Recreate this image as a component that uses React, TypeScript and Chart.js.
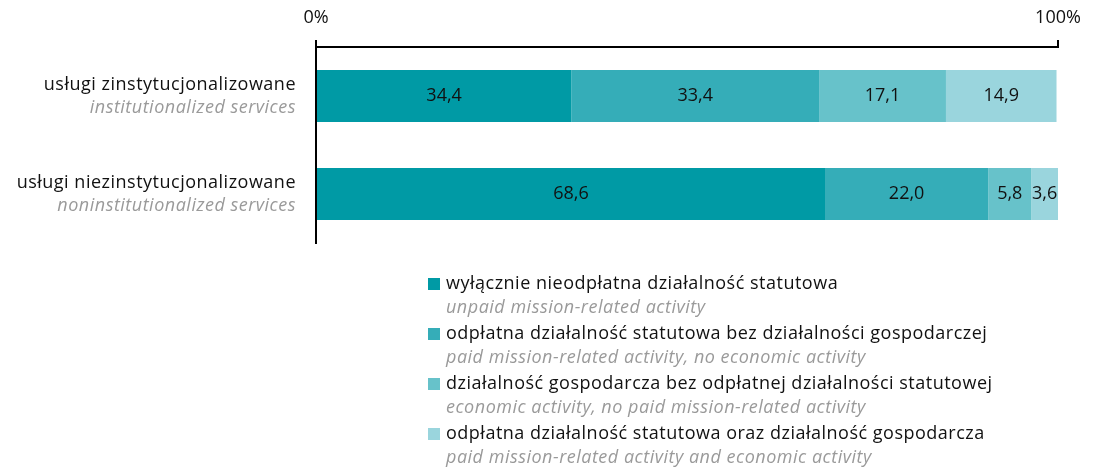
import React, { useEffect, useRef } from "react";
import { Chart, registerables } from "chart.js";

Chart.register(...registerables);

const categoriesPl = ["usługi zinstytucjonalizowane", "usługi niezinstytucjonalizowane"];
const categoriesEn = ["institutionalized services", "noninstitutionalized services"];

const seriesPl = [
  "wyłącznie nieodpłatna działalność statutowa",
  "odpłatna działalność statutowa bez działalności gospodarczej",
  "działalność gospodarcza bez odpłatnej działalności statutowej",
  "odpłatna działalność statutowa oraz działalność gospodarcza",
];
const seriesEn = [
  "unpaid mission-related activity",
  "paid mission-related activity, no economic activity",
  "economic activity, no paid mission-related activity",
  "paid mission-related activity and economic activity",
];

const unpaidMission = [34.4, 68.6];
const paidNoEconomic = [33.4, 22.0];
const economicNoPaid = [17.1, 5.8];
const paidAndEconomic = [14.9, 3.6];

const seriesValues = [unpaidMission, paidNoEconomic, economicNoPaid, paidAndEconomic];
const seriesColors = ["#009AA5", "#35ADB8", "#67C2CA", "#9AD5DD"];

const xTickValues = [0, 100];

const FONT = "'Open Sans', 'Noto Sans', sans-serif";

const labelsPlugin = {
  id: "customLabels",
  afterDatasetsDraw(chart: any) {
    const ctx = chart.ctx;
    ctx.save();
    // data labels
    ctx.font = `18px ${FONT}`;
    ctx.fillStyle = "#111";
    ctx.textAlign = "center";
    ctx.textBaseline = "middle";
    chart.data.datasets.forEach((ds: any, di: number) => {
      const meta = chart.getDatasetMeta(di);
      meta.data.forEach((bar: any, i: number) => {
        const v = ds.data[i];
        const cx = (bar.x + bar.base) / 2;
        ctx.fillText(v.toFixed(1).replace(".", ","), cx, bar.y);
      });
    });
    (ctx as any).letterSpacing = "0.5px";
    // category labels
    const yScale = chart.scales.y;
    ctx.textAlign = "right";
    categoriesPl.forEach((c, i) => {
      const y = yScale.getPixelForValue(i);
      ctx.font = `18px ${FONT}`;
      ctx.fillStyle = "#111";
      ctx.fillText(c, 296, y - 11);
      ctx.font = `italic 18px ${FONT}`;
      ctx.fillStyle = "#9a9a9a";
      ctx.fillText(categoriesEn[i], 296, y + 12);
    });
    // legend
    ctx.textAlign = "left";
    seriesPl.forEach((s, i) => {
      const y = 284 + i * 50;
      ctx.fillStyle = seriesColors[i];
      ctx.fillRect(428, y - 6, 12, 12);
      ctx.font = `18px ${FONT}`;
      ctx.fillStyle = "#111";
      ctx.fillText(s, 446, y);
      ctx.font = `italic 18px ${FONT}`;
      ctx.fillStyle = "#9a9a9a";
      ctx.fillText(seriesEn[i], 446, y + 24);
    });
    (ctx as any).letterSpacing = "0px";
    ctx.restore();
  },
};

export default function App() {
  const ref = useRef<HTMLCanvasElement>(null);
  useEffect(() => {
    if (!ref.current) return;
    const chart = new Chart(ref.current, {
      type: "bar",
      data: {
        labels: categoriesPl,
        datasets: seriesValues.map((vals, i) => ({
          label: seriesPl[i],
          data: vals,
          backgroundColor: seriesColors[i],
          borderWidth: 0,
          categoryPercentage: 1,
          barPercentage: 0.53,
        })),
      },
      options: {
        indexAxis: "y",
        responsive: false,
        animation: false,
        layout: { padding: { left: 0, right: 35, top: 0, bottom: 227 } },
        plugins: { legend: { display: false }, tooltip: { enabled: false } },
        scales: {
          x: {
            position: "top",
            stacked: true,
            min: 0,
            max: 100,
            afterBuildTicks: (s: any) => {
              s.ticks = xTickValues.map((v) => ({ value: v }));
            },
            afterFit: (s: any) => {
              s.height = 47;
            },
            ticks: {
              callback: (v: any) => `${v}%`,
              font: { family: FONT, size: 18 },
              color: "#111",
              padding: 11,
              maxRotation: 0,
            },
            grid: {
              drawOnChartArea: false,
              drawTicks: true,
              tickLength: 7,
              color: "#000",
              lineWidth: 2,
            },
            border: { display: true, color: "#000", width: 2 },
          },
          y: {
            stacked: true,
            afterFit: (s: any) => {
              s.width = 316;
            },
            ticks: { display: false },
            grid: { display: false },
            border: { display: true, color: "#000", width: 2 },
          },
        },
      },
      plugins: [labelsPlugin],
    } as any);
    return () => chart.destroy();
  }, []);
  return (
    <div style={{ position: "absolute", left: 0, top: 0, width: 1093, height: 470, background: "#fff" }}>
      <canvas ref={ref} width={1093} height={470} style={{ display: "block" }} />
    </div>
  );
}
